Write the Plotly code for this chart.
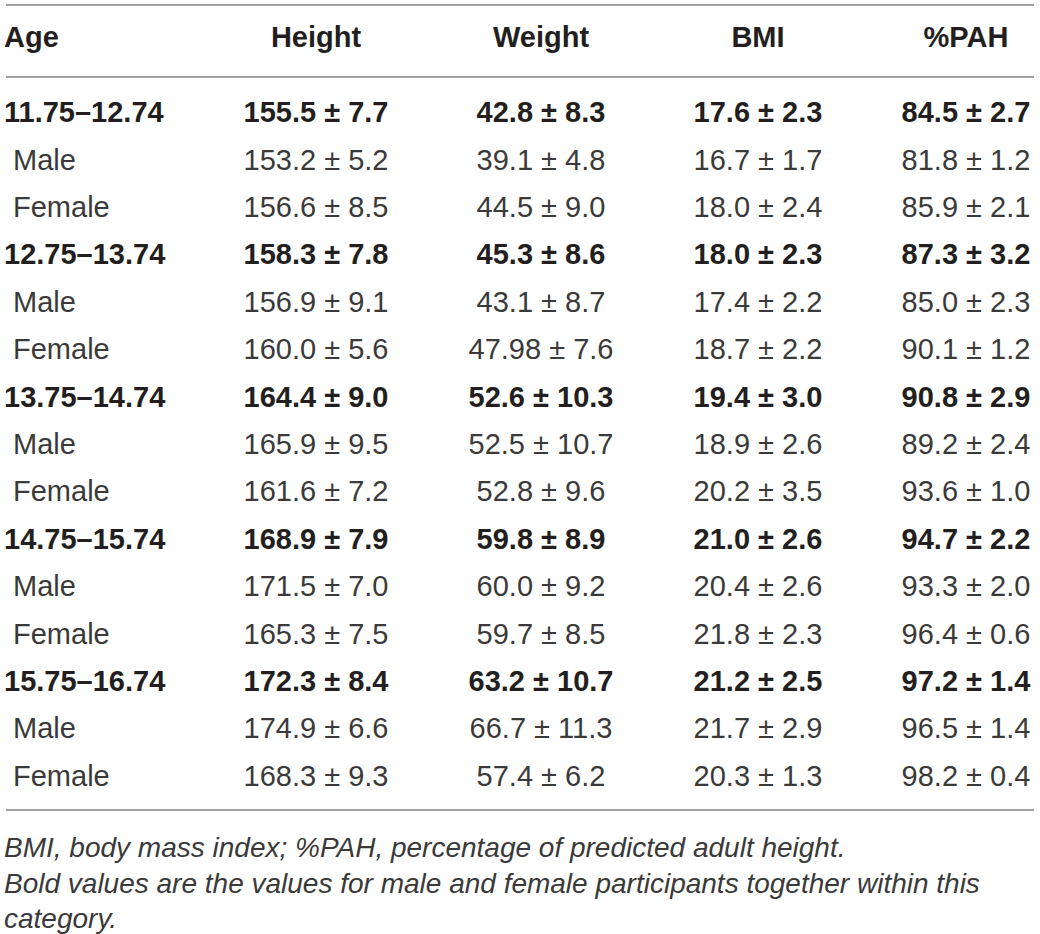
import plotly.graph_objects as go

# data -----------------------------------------------------------------
headers = ['Age', 'Height', 'Weight', 'BMI', '%PAH']

age_groups = ['11.75–12.74', 'Male', 'Female',
              '12.75–13.74', 'Male', 'Female',
              '13.75–14.74', 'Male', 'Female',
              '14.75–15.74', 'Male', 'Female',
              '15.75–16.74', 'Male', 'Female']
is_total = [True, False, False] * 5

height_mean = [155.5, 153.2, 156.6, 158.3, 156.9, 160.0, 164.4, 165.9, 161.6,
               168.9, 171.5, 165.3, 172.3, 174.9, 168.3]
height_sd = [7.7, 5.2, 8.5, 7.8, 9.1, 5.6, 9.0, 9.5, 7.2,
             7.9, 7.0, 7.5, 8.4, 6.6, 9.3]
weight_mean = [42.8, 39.1, 44.5, 45.3, 43.1, 47.98, 52.6, 52.5, 52.8,
               59.8, 60.0, 59.7, 63.2, 66.7, 57.4]
weight_sd = [8.3, 4.8, 9.0, 8.6, 8.7, 7.6, 10.3, 10.7, 9.6,
             8.9, 9.2, 8.5, 10.7, 11.3, 6.2]
bmi_mean = [17.6, 16.7, 18.0, 18.0, 17.4, 18.7, 19.4, 18.9, 20.2,
            21.0, 20.4, 21.8, 21.2, 21.7, 20.3]
bmi_sd = [2.3, 1.7, 2.4, 2.3, 2.2, 2.2, 3.0, 2.6, 3.5,
          2.6, 2.6, 2.3, 2.5, 2.9, 1.3]
pah_mean = [84.5, 81.8, 85.9, 87.3, 85.0, 90.1, 90.8, 89.2, 93.6,
            94.7, 93.3, 96.4, 97.2, 96.5, 98.2]
pah_sd = [2.7, 1.2, 2.1, 3.2, 2.3, 1.2, 2.9, 2.4, 1.0,
          2.2, 2.0, 0.6, 1.4, 1.4, 0.4]

footnotes = ['BMI, body mass index; %PAH, percentage of predicted adult height.',
             'Bold values are the values for male and female participants together within this',
             'category.']

# layout helpers -------------------------------------------------------
W, H = 1040, 934
FONT = 'Liberation Sans, Arial, sans-serif'
INK = '#231f20'
LIGHT_INK = '#3a3a3a'
SIZE = 29
col_x = [4, 316, 541, 758, 966]
header_y = 40
row_y0, row_step = 115, 47.4
rule_color = '#a0a0a0'

row_y = [row_y0 + i * row_step for i in range(len(age_groups))]


def fmt(m, s):
    return f'{m} \u00b1 {s}'


columns = [
    [fmt(m, s) for m, s in zip(height_mean, height_sd)],
    [fmt(m, s) for m, s in zip(weight_mean, weight_sd)],
    [fmt(m, s) for m, s in zip(bmi_mean, bmi_sd)],
    [fmt(m, s) for m, s in zip(pah_mean, pah_sd)],
]

fig = go.Figure()

# header
fig.add_trace(go.Scatter(
    x=col_x, y=[header_y] * len(headers), text=headers, mode='text',
    textposition=['middle right'] + ['middle center'] * 4,
    textfont=dict(family=FONT, size=SIZE, color=INK, weight='bold'),
    cliponaxis=False, hoverinfo='skip', showlegend=False,
))

for bold in (True, False):
    idx = [i for i, t in enumerate(is_total) if t == bold]
    weight = 'bold' if bold else 'normal'
    color = INK if bold else LIGHT_INK
    # age column, sub rows slightly indented
    fig.add_trace(go.Scatter(
        x=[col_x[0] + (0 if bold else 9)] * len(idx),
        y=[row_y[i] for i in idx],
        text=[age_groups[i] for i in idx],
        mode='text', textposition='middle right',
        textfont=dict(family=FONT, size=SIZE, color=color, weight=weight),
        cliponaxis=False, hoverinfo='skip', showlegend=False,
    ))
    for c, values in enumerate(columns, start=1):
        fig.add_trace(go.Scatter(
            x=[col_x[c]] * len(idx),
            y=[row_y[i] for i in idx],
            text=[values[i] for i in idx],
            mode='text', textposition='middle center',
            textfont=dict(family=FONT, size=SIZE, color=color, weight=weight),
            cliponaxis=False, hoverinfo='skip', showlegend=False,
        ))

# footnotes
fig.add_trace(go.Scatter(
    x=[col_x[0]] * len(footnotes),
    y=[850 + i * 35.5 for i in range(len(footnotes))],
    text=footnotes, mode='text', textposition='middle right',
    textfont=dict(family=FONT, size=28, color=LIGHT_INK, style='italic'),
    cliponaxis=False, hoverinfo='skip', showlegend=False,
))

# horizontal rules
for yy in (5, 77, 810):
    fig.add_shape(type='line', x0=6, x1=1034, y0=yy, y1=yy,
                  line=dict(color=rule_color, width=2))

fig.update_layout(
    width=W, height=H,
    margin=dict(l=0, r=0, t=0, b=0),
    plot_bgcolor='white', paper_bgcolor='white',
    xaxis=dict(range=[0, W], visible=False, fixedrange=True),
    yaxis=dict(range=[H, 0], visible=False, fixedrange=True),
)

# drop the browser's default body margin so the page is exactly the figure
fig.write_html('out.html', config={'displayModeBar': False},
               post_script="document.body.style.margin='0';")
